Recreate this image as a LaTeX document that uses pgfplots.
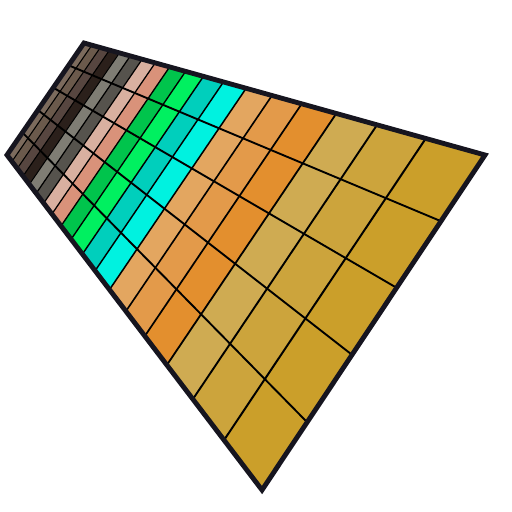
\documentclass[border=0pt]{standalone}
\usepackage{pgfplots}
\pgfplotsset{compat=1.18}
\definecolor{c1}{HTML}{7C6B5D}
\definecolor{c2}{HTML}{6B5A4C}
\definecolor{c3}{HTML}{574640}
\definecolor{c4}{HTML}{2B201B}
\definecolor{c5}{HTML}{7F7D74}
\definecolor{c6}{HTML}{56534D}
\definecolor{c7}{HTML}{D9B0A0}
\definecolor{c8}{HTML}{D9927A}
\definecolor{c9}{HTML}{00C44C}
\definecolor{c10}{HTML}{00F060}
\definecolor{c11}{HTML}{00CFBC}
\definecolor{c12}{HTML}{00F2E0}
\definecolor{c13}{HTML}{E3A660}
\definecolor{c14}{HTML}{E39A4A}
\definecolor{c15}{HTML}{E38F2E}
\definecolor{c16}{HTML}{CFAB52}
\definecolor{c17}{HTML}{CCA43C}
\definecolor{c18}{HTML}{CB9F2A}
\definecolor{edge}{HTML}{16151F}
\definecolor{grid}{HTML}{1A1A1A}
\begin{document}
\begin{tikzpicture}
\begin{axis}[scale only axis, width=10cm, height=10cm,
  xmin=0, xmax=512, ymin=0, ymax=512, y dir=reverse,
  hide axis, clip=false]
\draw[draw=none] (rel axis cs:0,0) rectangle (rel axis cs:1,1);
% column strips
\addplot[fill=c1, draw=c1, line width=0.2pt] coordinates {(84.00,43.00) (91.85,45.19) (11.94,161.49) (7.00,155.00)} -- cycle;
\addplot[fill=c2, draw=c2, line width=0.2pt] coordinates {(91.85,45.19) (100.32,47.56) (17.28,168.50) (11.94,161.49)} -- cycle;
\addplot[fill=c3, draw=c3, line width=0.2pt] coordinates {(100.32,47.56) (109.49,50.12) (23.06,176.10) (17.28,168.50)} -- cycle;
\addplot[fill=c4, draw=c4, line width=0.2pt] coordinates {(109.49,50.12) (119.45,52.90) (29.34,184.35) (23.06,176.10)} -- cycle;
\addplot[fill=c5, draw=c5, line width=0.2pt] coordinates {(119.45,52.90) (130.31,55.93) (36.19,193.34) (29.34,184.35)} -- cycle;
\addplot[fill=c6, draw=c6, line width=0.2pt] coordinates {(130.31,55.93) (142.18,59.25) (43.68,203.19) (36.19,193.34)} -- cycle;
\addplot[fill=c7, draw=c7, line width=0.2pt] coordinates {(142.18,59.25) (155.23,62.90) (51.92,214.02) (43.68,203.19)} -- cycle;
\addplot[fill=c8, draw=c8, line width=0.2pt] coordinates {(155.23,62.90) (169.64,66.92) (61.03,225.98) (51.92,214.02)} -- cycle;
\addplot[fill=c9, draw=c9, line width=0.2pt] coordinates {(169.64,66.92) (185.62,71.38) (71.14,239.26) (61.03,225.98)} -- cycle;
\addplot[fill=c10, draw=c10, line width=0.2pt] coordinates {(185.62,71.38) (203.46,76.37) (82.43,254.10) (71.14,239.26)} -- cycle;
\addplot[fill=c11, draw=c11, line width=0.2pt] coordinates {(203.46,76.37) (223.49,81.96) (95.12,270.77) (82.43,254.10)} -- cycle;
\addplot[fill=c12, draw=c12, line width=0.2pt] coordinates {(223.49,81.96) (246.15,88.29) (109.50,289.65) (95.12,270.77)} -- cycle;
\addplot[fill=c13, draw=c13, line width=0.2pt] coordinates {(246.15,88.29) (271.99,95.51) (125.91,311.21) (109.50,289.65)} -- cycle;
\addplot[fill=c14, draw=c14, line width=0.2pt] coordinates {(271.99,95.51) (301.73,103.81) (144.82,336.06) (125.91,311.21)} -- cycle;
\addplot[fill=c15, draw=c15, line width=0.2pt] coordinates {(301.73,103.81) (336.33,113.48) (166.86,365.02) (144.82,336.06)} -- cycle;
\addplot[fill=c16, draw=c16, line width=0.2pt] coordinates {(336.33,113.48) (377.08,124.86) (192.86,399.18) (166.86,365.02)} -- cycle;
\addplot[fill=c17, draw=c17, line width=0.2pt] coordinates {(377.08,124.86) (425.78,138.46) (224.02,440.10) (192.86,399.18)} -- cycle;
\addplot[fill=c18, draw=c18, line width=0.2pt] coordinates {(425.78,138.46) (485.01,155.00) (262.01,490.01) (224.02,440.10)} -- cycle;
% column lines
\addplot[grid, line width=0.6pt] coordinates {(91.85,45.19) (11.94,161.49)};
\addplot[grid, line width=0.6pt] coordinates {(100.32,47.56) (17.28,168.50)};
\addplot[grid, line width=0.6pt] coordinates {(109.49,50.12) (23.06,176.10)};
\addplot[grid, line width=0.6pt] coordinates {(119.45,52.90) (29.34,184.35)};
\addplot[grid, line width=0.7pt] coordinates {(130.31,55.93) (36.19,193.34)};
\addplot[grid, line width=0.7pt] coordinates {(142.18,59.25) (43.68,203.19)};
\addplot[grid, line width=0.7pt] coordinates {(155.23,62.90) (51.92,214.02)};
\addplot[grid, line width=0.75pt] coordinates {(169.64,66.92) (61.03,225.98)};
\addplot[grid, line width=0.75pt] coordinates {(185.62,71.38) (71.14,239.26)};
\addplot[grid, line width=0.8pt] coordinates {(203.46,76.37) (82.43,254.10)};
\addplot[grid, line width=0.8pt] coordinates {(223.49,81.96) (95.12,270.77)};
\addplot[grid, line width=0.85pt] coordinates {(246.15,88.29) (109.50,289.65)};
\addplot[grid, line width=0.9pt] coordinates {(271.99,95.51) (125.91,311.21)};
\addplot[grid, line width=0.95pt] coordinates {(301.73,103.81) (144.82,336.06)};
\addplot[grid, line width=1.0pt] coordinates {(336.33,113.48) (166.86,365.02)};
\addplot[grid, line width=1.05pt] coordinates {(377.08,124.86) (192.86,399.18)};
\addplot[grid, line width=1.1pt] coordinates {(425.78,138.46) (224.02,440.10)};
% row lines
\addplot[grid, line width=1.05pt] coordinates {(68.66,65.31) (440.95,221.19)};
\addplot[grid, line width=1.05pt] coordinates {(53.29,87.66) (396.62,287.79)};
\addplot[grid, line width=1.05pt] coordinates {(37.89,110.06) (352.02,354.78)};
\addplot[grid, line width=1.05pt] coordinates {(22.46,132.51) (307.15,422.19)};
% border
\addplot[edge, line width=2.7pt, line join=miter] coordinates {(84.00,43.00) (485.01,155.00) (262.01,490.01) (7.00,155.00)} -- cycle;
\end{axis}
\end{tikzpicture}
\end{document}
